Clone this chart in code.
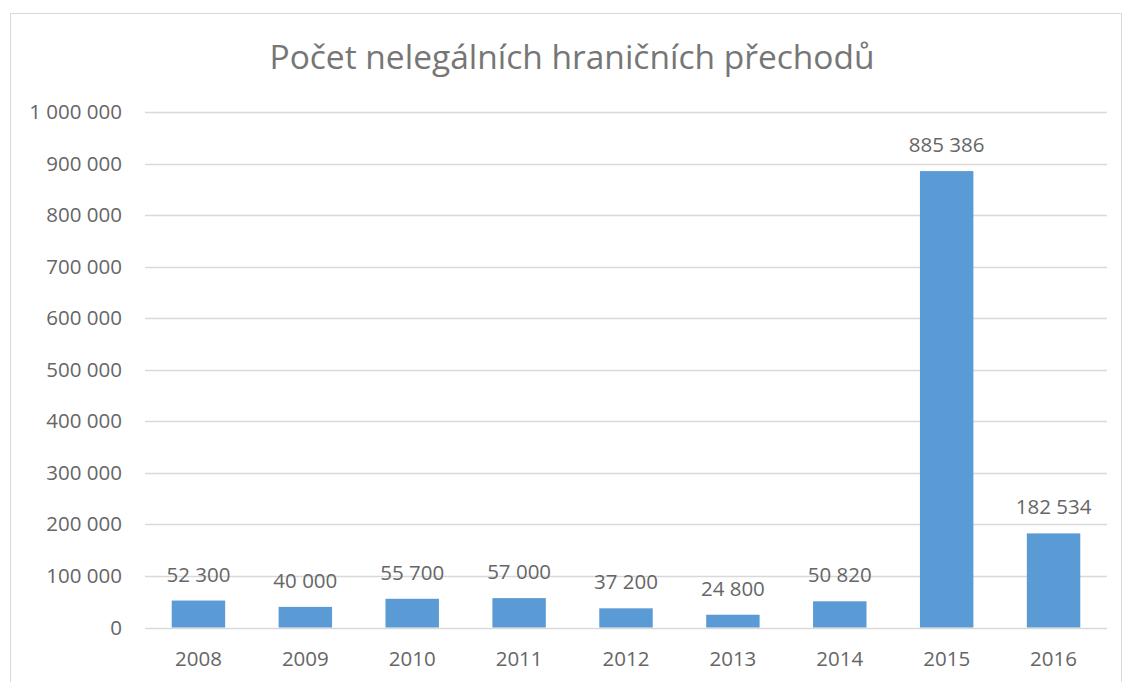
<!DOCTYPE html>
<html>
<head>
<meta charset="utf-8">
<script src="https://cdn.jsdelivr.net/npm/d3@7"></script>
<style>
  body { margin: 0; background: #fff; }
  text { font-family: 'Open Sans', sans-serif; fill: #666; }
</style>
</head>
<body>
<div id="chart"></div>
<script>
var years = ['2008', '2009', '2010', '2011', '2012', '2013', '2014', '2015', '2016']
var crossings = [52300, 40000, 55700, 57000, 37200, 24800, 50820, 885386, 182534]
var yTicks = [0, 100000, 200000, 300000, 400000, 500000, 600000, 700000, 800000, 900000, 1000000]

var width = 1123
var height = 682
var margin = { top: 112, left: 145, right: 16, bottom: 54.5 }

var svg = d3
  .select('#chart')
  .append('svg')
  .attr('width', width)
  .attr('height', height)

// chart area border
svg
  .append('rect')
  .attr('x', 10.5)
  .attr('y', 13.5)
  .attr('width', 1111)
  .attr('height', 680)
  .attr('fill', 'none')
  .attr('stroke', '#d9d9d9')
  .attr('stroke-width', 1)

var x = d3
  .scaleBand()
  .domain(years)
  .range([margin.left, width - margin.right])
  .paddingInner(0.5)
  .paddingOuter(0.25)

var y = d3
  .scaleLinear()
  .domain([0, 1000000])
  .range([height - margin.bottom, margin.top])

var fmt = d => d3.format(',')(d).replace(/,/g, ' ')

// gridlines
svg
  .append('g')
  .selectAll('line')
  .data(yTicks)
  .enter()
  .append('line')
  .attr('x1', margin.left)
  .attr('x2', width - margin.right)
  .attr('y1', d => Math.round(y(d)) + 0.5)
  .attr('y2', d => Math.round(y(d)) + 0.5)
  .attr('stroke', '#d9d9d9')
  .attr('stroke-width', 1.5)

// y labels
svg
  .append('g')
  .selectAll('text')
  .data(yTicks)
  .enter()
  .append('text')
  .attr('x', 122)
  .attr('y', d => y(d) + 7)
  .attr('text-anchor', 'end')
  .attr('font-size', 20.5)
  .text(fmt)

// bars
svg
  .append('g')
  .selectAll('rect')
  .data(crossings)
  .enter()
  .append('rect')
  .attr('x', (d, i) => x(years[i]))
  .attr('width', x.bandwidth())
  .attr('y', d => y(d))
  .attr('height', d => y(0) - y(d))
  .attr('fill', '#5b9bd5')

// value labels
svg
  .append('g')
  .selectAll('text')
  .data(crossings)
  .enter()
  .append('text')
  .attr('x', (d, i) => x(years[i]) + x.bandwidth() / 2)
  .attr('y', d => y(d) - 19)
  .attr('text-anchor', 'middle')
  .attr('font-size', 20.5)
  .text(fmt)

// x labels
svg
  .append('g')
  .selectAll('text')
  .data(years)
  .enter()
  .append('text')
  .attr('x', d => x(d) + x.bandwidth() / 2)
  .attr('y', 666)
  .attr('text-anchor', 'middle')
  .attr('font-size', 20.5)
  .text(d => d)

// title
svg
  .append('text')
  .attr('x', 572)
  .attr('y', 69)
  .attr('text-anchor', 'middle')
  .attr('font-size', 33.5)
  .style('fill', '#767676')
  .text('Počet nelegálních hraničních přechodů')
</script>
</body>
</html>
